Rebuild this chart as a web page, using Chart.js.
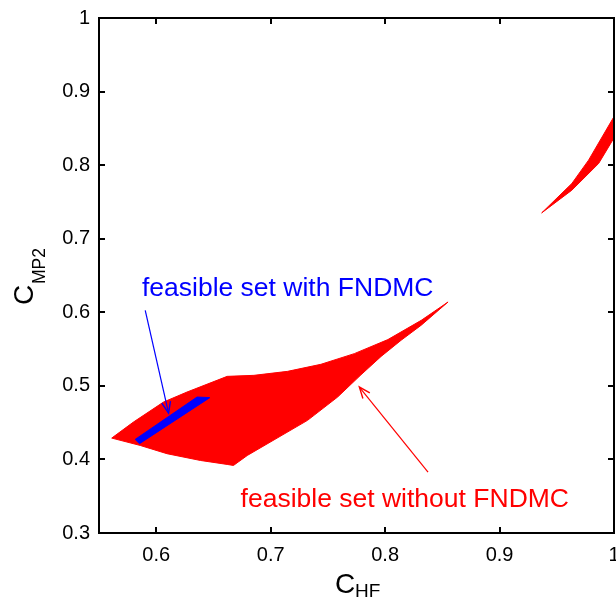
<!DOCTYPE html>
<html><head><meta charset="utf-8">
<script src="https://cdn.jsdelivr.net/npm/chart.js@4.4.1/dist/chart.umd.min.js"></script>
<style>html,body{margin:0;padding:0;background:#fff;overflow:hidden}#wrap{width:616px;height:597px}</style>
</head><body><div id="wrap"><canvas id="c" width="616" height="597"></canvas></div>
<script>
// ---- data ----
const xTickValues = [0.6, 0.7, 0.8, 0.9, 1.0];
const yTickValues = [0.3, 0.4, 0.5, 0.6, 0.7, 0.8, 0.9, 1.0];

const redUpperX = [0.5611, 0.5801, 0.6064, 0.6269, 0.6620, 0.6854, 0.7147, 0.7439, 0.7731, 0.8024, 0.8316, 0.8550];
const redUpperY = [0.4290, 0.4508, 0.4780, 0.4916, 0.5129, 0.5143, 0.5197, 0.5293, 0.5438, 0.5629, 0.5891, 0.6140];
const redLowerX = [0.5611, 0.5860, 0.6094, 0.6386, 0.6620, 0.6675, 0.6796, 0.7322, 0.7585, 0.7789, 0.7965, 0.8140, 0.8316, 0.8550];
const redLowerY = [0.4290, 0.4190, 0.4078, 0.3986, 0.3932, 0.3918, 0.4054, 0.4531, 0.4848, 0.5150, 0.5400, 0.5620, 0.5825, 0.6140];

const sliverUpperX = [0.9368, 0.9632, 0.9778, 1.0000];
const sliverUpperY = [0.7351, 0.7751, 0.8068, 0.8660];
const sliverLowerX = [0.9368, 0.9632, 0.9866, 1.0000];
const sliverLowerY = [0.7351, 0.7660, 0.8023, 0.8370];

const blueUpperX = [0.5816, 0.6357, 0.6468];
const blueUpperY = [0.4272, 0.4848, 0.4840];
const blueLowerX = [0.5816, 0.5854, 0.6468];
const blueLowerY = [0.4272, 0.4214, 0.4840];

const blueArrowX = [0.5904, 0.6108];
const blueArrowY = [0.6027, 0.4630];
const redArrowX = [0.8375, 0.7775];
const redArrowY = [0.3827, 0.4984];

const blueLabel = "feasible set with FNDMC";
const blueLabelAt = [0.5875, 0.6218];
const redLabel = "feasible set without FNDMC";
const redLabelAt = [0.6737, 0.3347];

// ---- helpers ----
const pts = (xs, ys) => xs.map((x, i) => ({x, y: ys[i]}));
const RED = '#ff0000', BLUE = '#0000ff';
const FONT = "'Liberation Sans', Arial, Helvetica, sans-serif";

function area(data, color, fill) {
  return {data, showLine: true, fill, backgroundColor: color, borderColor: color,
          borderWidth: 1, pointRadius: 0, pointHoverRadius: 0, tension: 0};
}
function shaft(data, color) {
  return {data, showLine: true, fill: false, borderColor: color, borderWidth: 1.2,
          pointRadius: 0, pointHoverRadius: 0, tension: 0};
}

const decor = {
  id: 'decor',
  afterDraw(chart) {
    const {ctx, chartArea: a, scales: {x, y}} = chart;
    ctx.save();
    const head = (xs, ys, color) => {
      const x0 = x.getPixelForValue(xs[0]), y0 = y.getPixelForValue(ys[0]);
      const x1 = x.getPixelForValue(xs[1]), y1 = y.getPixelForValue(ys[1]);
      const ang = Math.atan2(y1 - y0, x1 - x0), L = 12, w = 0.38;
      ctx.strokeStyle = color; ctx.lineWidth = 1.4;
      ctx.beginPath();
      ctx.moveTo(x1 - L * Math.cos(ang - w), y1 - L * Math.sin(ang - w));
      ctx.lineTo(x1, y1);
      ctx.lineTo(x1 - L * Math.cos(ang + w), y1 - L * Math.sin(ang + w));
      ctx.stroke();
    };
    head(blueArrowX, blueArrowY, BLUE);
    head(redArrowX, redArrowY, RED);
    ctx.font = '26.5px ' + FONT;
    ctx.textBaseline = 'alphabetic'; ctx.textAlign = 'left';
    ctx.fillStyle = BLUE;
    ctx.fillText(blueLabel, x.getPixelForValue(blueLabelAt[0]), y.getPixelForValue(blueLabelAt[1]));
    ctx.fillStyle = RED;
    ctx.fillText(redLabel, x.getPixelForValue(redLabelAt[0]), y.getPixelForValue(redLabelAt[1]));
    ctx.strokeStyle = '#000'; ctx.lineWidth = 2;
    ctx.strokeRect(a.left, a.top, a.right - a.left, a.bottom - a.top);
    const T = 6;
    ctx.beginPath();
    xTickValues.forEach(v => {
      const px = Math.round(x.getPixelForValue(v));
      ctx.moveTo(px, a.bottom); ctx.lineTo(px, a.bottom - T);
      ctx.moveTo(px, a.top); ctx.lineTo(px, a.top + T);
    });
    yTickValues.forEach(v => {
      const py = Math.round(y.getPixelForValue(v));
      ctx.moveTo(a.left, py); ctx.lineTo(a.left + T, py);
      ctx.moveTo(a.right, py); ctx.lineTo(a.right - T, py);
    });
    ctx.stroke();
    ctx.fillStyle = '#000';
    ctx.font = '28px ' + FONT;
    ctx.fillText('C', 335, 593);
    ctx.font = '19px ' + FONT;
    ctx.fillText('HF', 355, 597);
    ctx.save();
    ctx.translate(33, 305);
    ctx.rotate(-Math.PI / 2);
    ctx.font = '28px ' + FONT;
    ctx.fillText('C', 0, 0);
    ctx.font = '17.5px ' + FONT;
    ctx.fillText('MP2', 21, 12);
    ctx.restore();
    ctx.restore();
  }
};

const fmt = v => String(+(+v).toFixed(1));
const noPad = s => { s.paddingLeft = 0; s.paddingRight = 0; s.paddingTop = 0; s.paddingBottom = 0; };

new Chart(document.getElementById('c'), {
  type: 'scatter',
  data: {
    datasets: [
      shaft(pts(blueArrowX, blueArrowY), BLUE),
      shaft(pts(redArrowX, redArrowY), RED),
      area(pts(blueUpperX, blueUpperY), BLUE, '+1'),
      area(pts(blueLowerX, blueLowerY), BLUE, false),
      area(pts(redUpperX, redUpperY), RED, '+1'),
      area(pts(redLowerX, redLowerY), RED, false),
      area(pts(sliverUpperX, sliverUpperY), RED, '+1'),
      area(pts(sliverLowerX, sliverLowerY), RED, false)
    ]
  },
  options: {
    responsive: false,
    animation: false,
    events: [],
    layout: {padding: {top: 18, right: 2, left: 0, bottom: 0}},
    plugins: {legend: {display: false}, tooltip: {enabled: false}},
    scales: {
      x: {
        type: 'linear', min: 0.55, max: 1.0,
        afterFit: s => { s.height = 64; noPad(s); },
        afterBuildTicks: s => { s.ticks = xTickValues.map(v => ({value: v})); },
        grid: {display: false, drawTicks: false},
        border: {display: false},
        ticks: {font: {family: FONT, size: 20}, color: '#000', padding: 10, maxRotation: 0, autoSkip: false, callback: fmt}
      },
      y: {
        type: 'linear', min: 0.3, max: 1.0,
        afterFit: s => { s.width = 99; noPad(s); },
        afterBuildTicks: s => { s.ticks = yTickValues.map(v => ({value: v})); },
        grid: {display: false, drawTicks: false},
        border: {display: false},
        ticks: {font: {family: FONT, size: 20}, color: '#000', padding: 9, autoSkip: false, callback: fmt}
      }
    }
  },
  plugins: [decor]
});
</script>
</body></html>
